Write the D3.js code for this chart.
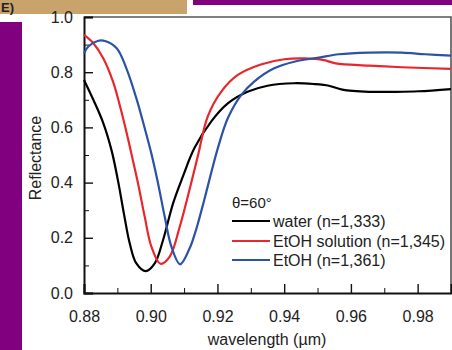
<!doctype html>
<html lang="en">
<head>
  <meta charset="utf-8">
  <title>Reflectance vs wavelength</title>
  <style>
body { margin: 0; background: #fff; }
svg { display: block; font-family: "Liberation Sans", Arial, sans-serif; }
.axis path, .axis line { stroke: #111; }
.axis text { font-size: 16px; fill: #222; }
  </style>
</head>
<body>
  <script src="https://d3js.org/d3.v7.min.js"></script>
  <script>
// values
var waterWl = [0.880, 0.8828, 0.8858, 0.8883, 0.8903, 0.8920, 0.8937, 0.8957, 0.8985, 0.9012, 0.9037, 0.9067, 0.9096, 0.9131, 0.9181, 0.9231, 0.9290, 0.9350, 0.9430, 0.9490, 0.9534, 0.9574, 0.9654, 0.9733, 0.9803, 0.990];
var waterR  = [0.772, 0.700, 0.615, 0.515, 0.400, 0.285, 0.180, 0.107, 0.079, 0.107, 0.192, 0.325, 0.421, 0.525, 0.621, 0.687, 0.729, 0.751, 0.760, 0.757, 0.751, 0.737, 0.729, 0.729, 0.731, 0.739];

var ethSolWl = [0.880, 0.8828, 0.8858, 0.8887, 0.8907, 0.8927, 0.8942, 0.8962, 0.8982, 0.9002, 0.9029, 0.9057, 0.9087, 0.9116, 0.9141, 0.9171, 0.9211, 0.9261, 0.9330, 0.9400, 0.9460, 0.9519, 0.9554, 0.9654, 0.9753, 0.990];
var ethSolR  = [0.935, 0.905, 0.850, 0.766, 0.681, 0.584, 0.505, 0.397, 0.276, 0.168, 0.106, 0.132, 0.240, 0.373, 0.495, 0.640, 0.729, 0.790, 0.828, 0.847, 0.850, 0.844, 0.832, 0.824, 0.818, 0.812];

var ethWl = [0.880, 0.8813, 0.8843, 0.8863, 0.8898, 0.8927, 0.8957, 0.8982, 0.9002, 0.9022, 0.9042, 0.9062, 0.9088, 0.9116, 0.9131, 0.9141, 0.9161, 0.9201, 0.9231, 0.9271, 0.9310, 0.9370, 0.9430, 0.9504, 0.9564, 0.9654, 0.9753, 0.9823, 0.990];
var ethR  = [0.868, 0.893, 0.914, 0.913, 0.887, 0.814, 0.705, 0.597, 0.505, 0.397, 0.276, 0.168, 0.104, 0.160, 0.210, 0.250, 0.340, 0.524, 0.633, 0.717, 0.766, 0.814, 0.838, 0.853, 0.865, 0.871, 0.871, 0.865, 0.860];

var seriesNames = ["water (n=1,333)", "EtOH solution (n=1,345)", "EtOH (n=1,361)"];
var seriesColors = ["#000000", "#e8262b", "#2a52a6"];
var xTicks = [0.88, 0.90, 0.92, 0.94, 0.96, 0.98];
var yTicks = [0.0, 0.2, 0.4, 0.6, 0.8, 1.0];

var width = 452, height = 350;
var margin = {top: 17, right: 1, bottom: 57, left: 84};

var svg = d3.select("body").append("svg")
    .attr("width", width)
    .attr("height", height);

// page decoration around the figure
svg.append("rect").attr("x", 0).attr("y", 0).attr("width", 187).attr("height", 14).attr("fill", "#c9a36c");
svg.append("text").attr("x", 1).attr("y", 12).attr("font-size", 13).attr("font-weight", "bold").attr("fill", "#222").text("E)");
svg.append("rect").attr("x", 193).attr("y", 0).attr("width", 259).attr("height", 5).attr("fill", "#80007f");
svg.append("rect").attr("x", 0).attr("y", 22).attr("width", 22).attr("height", 328).attr("fill", "#80007f");

var x = d3.scaleLinear()
    .domain([0.88, 0.99])
    .range([margin.left, width - margin.right]);
var y = d3.scaleLinear()
    .domain([0, 1])
    .range([height - margin.bottom, margin.top]);

// frame top/right
svg.append("path")
    .attr("d", "M" + x(0.88) + "," + y(1) + "H" + x(0.99) + "V" + y(0))
    .attr("fill", "none")
    .attr("stroke", "#555")
    .attr("stroke-width", 1.6);

// minor ticks
var gx = svg.append("g").attr("class", "axis")
    .attr("transform", "translate(0," + y(0) + ")");
gx.call(d3.axisBottom(x).tickValues(d3.range(0.89, 0.99, 0.02)).tickSize(-5).tickFormat(""));
gx.select(".domain").remove();
gx.append("g").call(d3.axisBottom(x).tickValues(xTicks).tickSize(-9).tickPadding(14).tickFormat(d3.format(".2f")))
    .call(function(g) { g.select(".domain").attr("stroke-width", 2); g.selectAll("line").attr("stroke-width", 1.4); });
gx.selectAll("text").attr("dy", "0.95em");

var gy = svg.append("g").attr("class", "axis")
    .attr("transform", "translate(" + x(0.88) + ",0)");
gy.call(d3.axisLeft(y).tickValues(d3.range(0.1, 1, 0.2)).tickSize(-5).tickFormat(""));
gy.select(".domain").remove();
gy.append("g").call(d3.axisLeft(y).tickValues(yTicks).tickSize(-9).tickPadding(11).tickFormat(d3.format(".1f")))
    .call(function(g) { g.select(".domain").attr("stroke-width", 2); g.selectAll("line").attr("stroke-width", 1.4); });

svg.append("text")
    .attr("x", 267).attr("y", 345)
    .attr("text-anchor", "middle")
    .attr("font-size", 16).attr("fill", "#222")
    .text("wavelength (\u00b5m)");
svg.append("text")
    .attr("transform", "translate(41,158) rotate(-90)")
    .attr("text-anchor", "middle")
    .attr("font-size", 16).attr("fill", "#222")
    .text("Reflectance");

var series = [
  {wl: waterWl, r: waterR},
  {wl: ethSolWl, r: ethSolR},
  {wl: ethWl, r: ethR}
];

var line = d3.line()
    .x(function(d) { return x(d[0]); })
    .y(function(d) { return y(d[1]); })
    .curve(d3.curveCatmullRom.alpha(0.5));

svg.append("g").selectAll("path")
    .data(series)
    .enter().append("path")
    .attr("d", function(s) { return line(d3.zip(s.wl, s.r)); })
    .attr("fill", "none")
    .attr("stroke", function(s, i) { return seriesColors[i]; })
    .attr("stroke-width", 2.2);

// legend
var lg = svg.append("g").attr("transform", "translate(232,0)");
lg.append("text").attr("x", 0).attr("y", 208).attr("font-size", 15).attr("fill", "#222").text("\u03b8=60\u00b0");
var items = lg.selectAll(".item").data(seriesNames).enter().append("g")
    .attr("transform", function(d, i) { return "translate(0," + [221, 241, 260][i] + ")"; });
items.append("line").attr("x1", 0).attr("x2", 38)
    .attr("stroke", function(d, i) { return seriesColors[i]; })
    .attr("stroke-width", 2.2);
items.append("text").attr("x", 41).attr("dy", "0.36em")
    .attr("font-size", 16).attr("fill", "#222")
    .text(function(d) { return d; });
  </script>
</body>
</html>
